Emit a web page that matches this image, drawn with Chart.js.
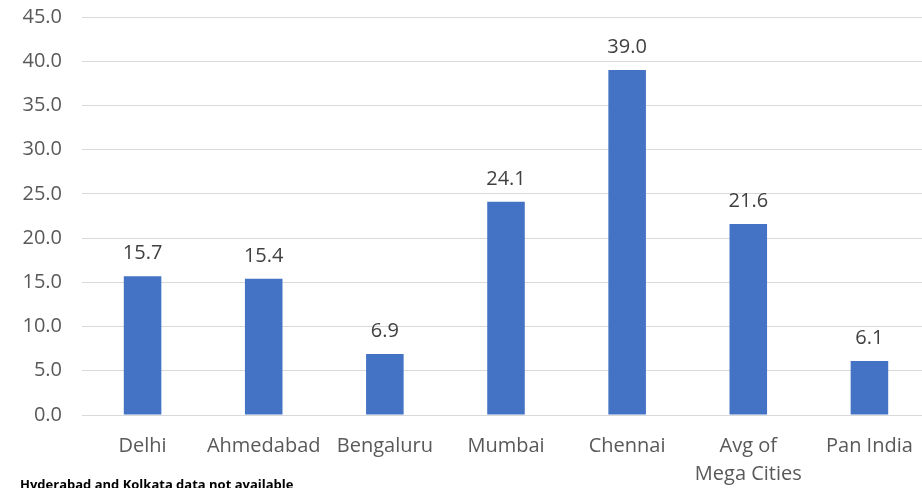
<!DOCTYPE html>
<html>
<head>
<meta charset="utf-8">
<script src="https://cdn.jsdelivr.net/npm/chart.js@4"></script>
<style>
  body { margin: 0; overflow: hidden; background: #fff; }
  #wrap { position: relative; width: 922px; height: 488px; overflow: hidden; }
  #myChart { display: block; margin-top: -15px; }
  #note { position: absolute; left: 20px; top: 475px; font: bold 13px "Open Sans", sans-serif; color: #000; white-space: nowrap; }
</style>
</head>
<body>
<div id="wrap">
  <canvas id="myChart" width="932" height="503"></canvas>
  <div id="note">Hyderabad and Kolkata data not available</div>
</div>
<script>
const cities = ['Delhi', 'Ahmedabad', 'Bengaluru', 'Mumbai', 'Chennai', ['Avg of', 'Mega Cities'], 'Pan India'];
const values = [15.7, 15.4, 6.9, 24.1, 39.0, 21.6, 6.1];
const yTicks = [0, 5, 10, 15, 20, 25, 30, 35, 40, 45];

const textColor = '#595959';
const fontFamily = '"Open Sans", sans-serif';

// draws the number above each bar
const barLabels = {
    id: 'barLabels',
    afterDatasetsDraw(chart) {
        const c = chart.ctx;
        const meta = chart.getDatasetMeta(0);
        c.save();
        c.font = '20px ' + fontFamily;
        c.fillStyle = '#404040';
        c.textAlign = 'center';
        c.textBaseline = 'alphabetic';
        meta.data.forEach((bar, i) => {
            c.fillText(values[i].toFixed(1), bar.x, bar.y - 17);
        });
        c.restore();
    }
};

const ctx = document.getElementById('myChart').getContext('2d');

const myChart = new Chart(ctx, {
    type: 'bar',
    data: {
        labels: cities,
        datasets: [{
            label: 'Value',
            data: values,
            backgroundColor: '#4472C4',
            borderWidth: 0,
            categoryPercentage: 1,
            barPercentage: 0.31
        }]
    },
    options: {
        responsive: false,
        animation: false,
        layout: { padding: { top: 1, right: 2, left: 0, bottom: 0 } },
        plugins: {
            legend: { display: false },
            tooltip: { enabled: false }
        },
        scales: {
            y: {
                min: 0,
                max: 45,
                afterBuildTicks: axis => { axis.ticks = yTicks.map(v => ({ value: v })); },
                afterFit: axis => { axis.width = 82; },
                border: { display: false },
                grid: { color: '#d9d9d9', lineWidth: 1, drawTicks: false },
                ticks: {
                    padding: 20,
                    color: textColor,
                    font: { size: 20, family: fontFamily },
                    callback: v => v.toFixed(1)
                }
            },
            x: {
                afterFit: axis => { axis.height = 73; },
                border: { display: false },
                grid: { display: false, drawTicks: false },
                ticks: {
                    padding: 17,
                    color: textColor,
                    maxRotation: 0,
                    autoSkip: false,
                    font: { size: 20, family: fontFamily, lineHeight: 1.4 }
                }
            }
        }
    },
    plugins: [barLabels]
});
</script>
</body>
</html>
